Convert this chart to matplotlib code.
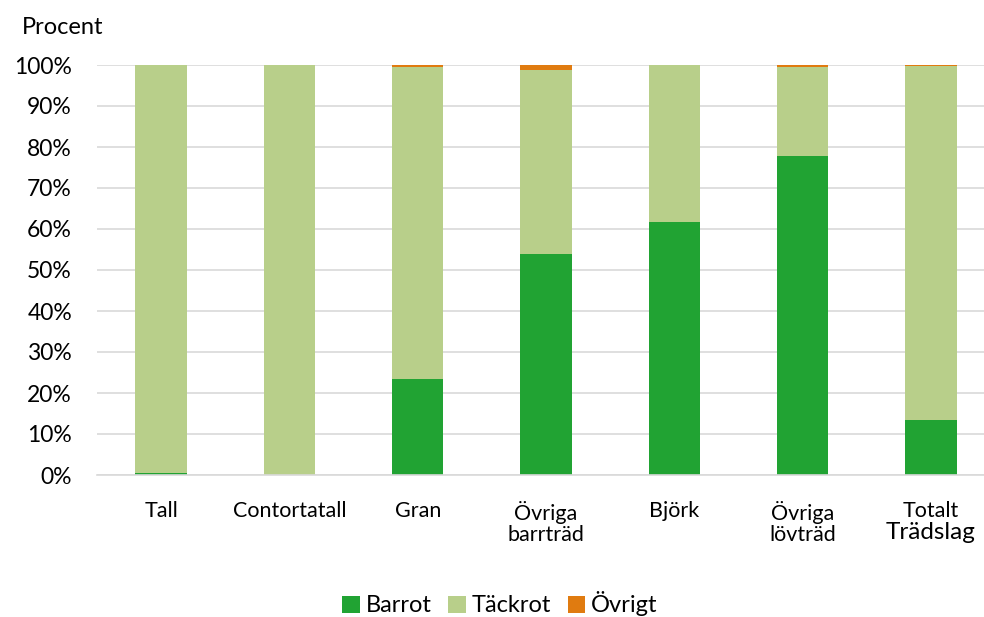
import numpy as np
import matplotlib.pyplot as plt
from matplotlib.ticker import PercentFormatter

plt.rcParams['font.family'] = ['Lato', 'DejaVu Sans']

kategorier = ['Tall', 'Contortatall', 'Gran', 'Övriga\nbarrträd', 'Björk', 'Övriga\nlövträd', 'Totalt']
barrot = np.array([0.5, 0.0, 23.5, 54.0, 61.8, 77.8, 13.3])
ovrigt = np.array([0.0, 0.1, 0.4, 1.1, 0.0, 0.6, 0.2])
tackrot = 100 - barrot - ovrigt

fig = plt.figure(figsize=(9.84, 6.17), dpi=100)
ax = fig.add_axes([97/984, 1 - 475/617, 898/984, 410/617])

x = np.arange(len(kategorier))
w = 0.4
ax.bar(x, barrot / 100, w, color='#21a333', label='Barrot')
ax.bar(x, tackrot / 100, w, bottom=barrot / 100, color='#b8cf8a', label='Täckrot')
ax.bar(x, ovrigt / 100, w, bottom=(barrot + tackrot) / 100, color='#e07b10', label='Övrigt')

ax.set_xlim(-0.5, 6.5)
ax.set_ylim(0, 1)
ax.set_yticks(np.arange(0, 1.01, 0.1))
ax.yaxis.set_major_formatter(PercentFormatter(1.0, decimals=0))
ax.set_xticks(x)
ax.set_xticklabels(kategorier, fontsize=15.5, linespacing=1.05)
ax.tick_params(axis='y', labelsize=16.5, length=0, pad=18)
ax.tick_params(axis='x', length=0, pad=19)
ax.grid(axis='y', color='#d9d9d9', linewidth=1.2)
ax.set_axisbelow(True)
for s in ['top', 'right', 'left']:
    ax.spines[s].set_visible(False)
ax.spines['bottom'].set_color('#d9d9d9')
ax.spines['bottom'].set_linewidth(1.2)

# second line of the last label is set larger in the original
ax.text(6, -0.115, 'Trädslag', transform=ax.get_xaxis_transform(),
        ha='center', va='top', fontsize=17.5)

fig.text(22/984, 1 - 28/617, 'Procent', fontsize=17, va='center')

fig.legend(loc='center', bbox_to_anchor=(0.508, 1 - 604/617), ncol=3, frameon=False,
           fontsize=17, handlelength=0.75, handleheight=0.75, handletextpad=0.25,
           columnspacing=0.7)

fig.savefig('out.png', dpi=100)
